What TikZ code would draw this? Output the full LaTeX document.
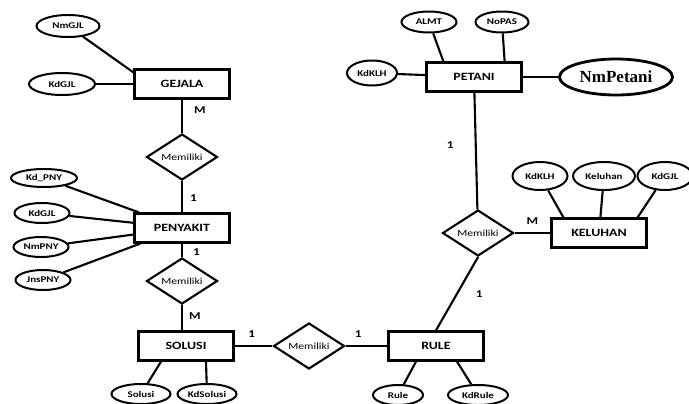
\documentclass[tikz,border=0pt]{standalone}
\usepackage{fontspec}
\setmainfont{Carlito}[FakeStretch=1.25]
\newfontfamily\petanifont{Liberation Serif}
\usepackage{tikz}
\usetikzlibrary{shapes.geometric}
\tikzstyle{entity} = [font=\fontsize{9.5}{11}\selectfont\bfseries, rectangle, minimum width=2.85cm, minimum height=0.87cm, text centered, draw=black, line width=1.9pt]
\tikzstyle{relation} = [font=\fontsize{8}{9}\selectfont, diamond, aspect=1.5, inner sep=0pt, minimum width=2.13cm, minimum height=1.38cm, draw=black, line width=1.8pt]
\tikzstyle{attrib} = [font=\fontsize{7.5}{8}\selectfont\bfseries, ellipse, inner sep=0pt, minimum width=1.65cm, minimum height=0.6cm, draw=black, line width=1.7pt]
\tikzstyle{card} = [font=\fontsize{9}{10}\selectfont\bfseries, inner sep=1pt]
\tikzstyle{line} = [line width=1.8pt]

\begin{document}
\begin{tikzpicture}
  \useasboundingbox (0,0) rectangle (20.67,-12.09);
  \node (gejala) [entity] at (5.46,-2.52) {GEJALA};
  \node (memiliki_1)[relation, below of = gejala, yshift=-1.19cm]{Memiliki};
  \node (penyakit)[entity, below of = memiliki_1, yshift=-1.13cm]{PENYAKIT};
  \node (memiliki_2)[relation, below of = penyakit, yshift=-0.59cm]{Memiliki};
  \node (solusi)[entity, below of = memiliki_2, yshift=-0.95cm, xshift=0.12cm]{SOLUSI};
  \node (memiliki_3)[relation, right of = solusi, xshift=2.69cm]{Memiliki};
  \node (rule)[entity, right of = memiliki_3, xshift=2.81cm]{RULE};
  \node (memiliki_4)[relation, above of = rule, yshift=2.39cm, xshift=1.26cm]{Memiliki};
  \node (keluhan)[entity, right of = memiliki_4, xshift=2.63cm]{KELUHAN};
  \node (petani)[entity, above of = memiliki_4, yshift=3.68cm, xshift=-0.12cm]{PETANI};
  % atribut
  \node (nm_gjl)[attrib, above of = gejala, yshift=0.74cm, xshift=-3.42cm, minimum width=1.89cm, minimum height=0.66cm]{NmGJL};
  \node (kd_gjl)[attrib, left of = gejala, xshift=-2.6cm, minimum width=1.98cm, minimum height=0.66cm]{KdGJL};
  \node (kd_pny)[attrib, left of = penyakit, xshift=-3.14cm, yshift=1.5cm, minimum width=1.98cm, minimum height=0.54cm]{Kd\_PNY};
  \node (kd_gjl_pny)[attrib, left of = penyakit, xshift=-3.2cm, yshift=0.45cm]{KdGJL};
  \node (nm_pny)[attrib, left of = penyakit, xshift=-3.23cm, yshift=-0.57cm]{NmPNY};
  \node (jns_pny)[attrib, left of = penyakit, xshift=-3.17cm, yshift=-1.56cm]{JnsPNY};
  \node (solusi_txt)[attrib, below of = solusi, yshift=-0.44cm, xshift=-1.35cm, minimum width=1.77cm]{Solusi};
  \node (kd_solusi)[attrib, below of = solusi, yshift=-0.44cm, xshift=0.63cm, minimum width=1.77cm]{KdSolusi};
  \node (rule_txt)[attrib, below of = rule, yshift=-0.47cm, xshift=-1.14cm, minimum width=1.5cm]{Rule};
  \node (kd_rule)[attrib, below of = rule, yshift=-0.47cm, xshift=1.26cm, minimum width=1.8cm]{KdRule};
  \node (kd_klh)[attrib, above of = keluhan, yshift=0.71cm, xshift=-1.77cm, minimum height=0.84cm]{KdKLH};
  \node (keluhan_txt)[attrib, above of = keluhan, yshift=0.71cm, xshift=0.15cm, minimum width=1.86cm, minimum height=0.84cm]{Keluhan};
  \node (kd_gjl_klh)[attrib, above of = keluhan, yshift=0.71cm, xshift=1.98cm, minimum height=0.84cm]{KdGJL};
  \node (almt)[attrib, above of = petani, yshift=0.65cm, xshift=-1.35cm, minimum height=0.63cm]{ALMT};
  \node (no_pas)[attrib, above of = petani, yshift=0.65cm, xshift=0.84cm, minimum width=1.59cm, minimum height=0.63cm]{NoPAS};
  \node (kd_klh_ptn)[attrib, left of = petani, xshift=-2.06cm, yshift=0.12cm, minimum width=1.5cm, minimum height=0.75cm]{KdKLH};
  \node (nm_petani)[attrib, right of = petani, xshift=3.26cm, minimum width=3.39cm, minimum height=1.08cm, line width=2.4pt, font=\petanifont\fontsize{14.5}{16}\selectfont\bfseries]{NmPetani};
  % relasi
  \draw[line](gejala) -- node[card, right=0.3cm, pos=0.3]{M} (memiliki_1);
  \draw[line](memiliki_1) -- node[card, right=0.18cm, pos=0.55]{1} (penyakit);
  \draw[line](penyakit) -- node[card, right=0.27cm, pos=0.6]{1} (memiliki_2);
  \draw[line](memiliki_2) -- node[card, right=0.15cm, pos=0.44]{M} (memiliki_2 |- solusi.north);
  \draw[line](solusi) -- node[card, above=0.18cm, pos=0.45]{1} (memiliki_3);
  \draw[line](memiliki_3) -- node[card, above=0.18cm, pos=0.3]{1} (rule);
  \draw[line](memiliki_4.south) -- node[card, right=0.5cm, pos=0.5]{1} (rule.north);
  \draw[line](petani) -- node[card, left=0.6cm, pos=0.45]{1} (memiliki_4);
  \draw[line](memiliki_4) -- node[card, above=0.2cm, pos=0.5]{M} (keluhan);
  % garis atribut
  \draw[line](nm_gjl) -- ([yshift=-0.12cm]gejala.north west);
  \draw[line](kd_gjl) -- (gejala);
  \draw[line](kd_pny) -- (penyakit);
  \draw[line](kd_gjl_pny) -- (penyakit);
  \draw[line](nm_pny) -- (penyakit);
  \draw[line](jns_pny) -- (penyakit);
  \draw[line](solusi_txt) -- ([xshift=-0.75cm]solusi.south);
  \draw[line](kd_solusi) -- ([xshift=0.6cm]solusi.south);
  \draw[line](rule_txt) -- ([xshift=-0.6cm]rule.south);
  \draw[line](kd_rule) -- ([xshift=0.63cm]rule.south);
  \draw[line](kd_klh) -- ([xshift=0.39cm]keluhan.north west);
  \draw[line](keluhan_txt) -- (keluhan);
  \draw[line](kd_gjl_klh) -- ([xshift=-0.3cm]keluhan.north east);
  \draw[line](almt) -- ([xshift=0.54cm]petani.north west);
  \draw[line](no_pas) -- ([xshift=-0.54cm]petani.north east);
  \draw[line](kd_klh_ptn) -- (petani);
  \draw[line, line width=2.4pt](petani) -- (nm_petani);
\end{tikzpicture}
\end{document}
